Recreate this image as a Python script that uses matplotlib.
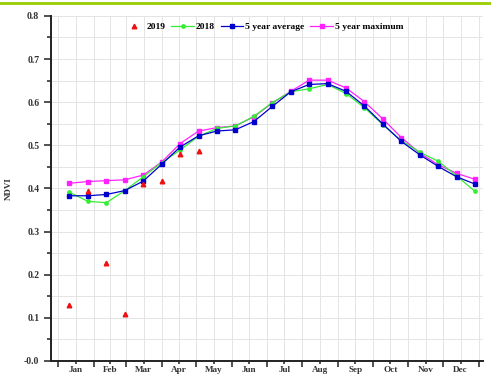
import matplotlib
matplotlib.use("Agg")
import matplotlib.pyplot as plt
from matplotlib.lines import Line2D
import numpy as np

# 16-day composites, plotted by day of year
days = [10 + 16 * k for k in range(23)]

ndvi_2019 = [0.130, 0.395, 0.226, 0.108, 0.410, 0.417, 0.479, 0.487]
ndvi_2018 = [0.391, 0.370, 0.367, 0.395, 0.427, 0.460, 0.489, 0.521, 0.539, 0.545,
             0.567, 0.599, 0.624, 0.631, 0.641, 0.620, 0.587, 0.548, 0.511, 0.484,
             0.463, 0.429, 0.393]
avg_5yr = [0.383, 0.383, 0.386, 0.395, 0.417, 0.456, 0.496, 0.522, 0.533, 0.536,
           0.555, 0.590, 0.624, 0.641, 0.643, 0.625, 0.591, 0.549, 0.509, 0.478,
           0.451, 0.427, 0.410]
max_5yr = [0.412, 0.416, 0.418, 0.420, 0.431, 0.461, 0.504, 0.533, 0.541, 0.545,
           0.566, 0.598, 0.625, 0.651, 0.651, 0.633, 0.601, 0.561, 0.518, 0.482,
           0.455, 0.435, 0.421]

months = ["Jan", "Feb", "Mar", "Apr", "May", "Jun", "Jul", "Aug", "Sep", "Oct", "Nov", "Dec"]
month_len = [31, 28, 31, 30, 31, 30, 31, 31, 30, 31, 30, 31]
y_ticks = [0.0, 0.1, 0.2, 0.3, 0.4, 0.5, 0.6, 0.7, 0.8]
y_labels = ["-0.0", "0.1", "0.2", "0.3", "0.4", "0.5", "0.6", "0.7", "0.8"]

month_edges = np.concatenate([[0], np.cumsum(month_len)])
month_mid = (month_edges[:-1] + month_edges[1:]) / 2

plt.rcParams['font.family'] = ['Liberation Serif', 'DejaVu Serif']
plt.rcParams['font.weight'] = 'bold'

fig = plt.figure(figsize=(4.91, 3.78), dpi=100)
ax = fig.add_axes([0.104, 0.045, 0.880, 0.913])

ax.plot(days, ndvi_2018, color='#33ee33', lw=0.9, marker='o', ms=2.4, label='2018', zorder=3)
ax.plot(days, avg_5yr, color='#0000cc', lw=0.9, marker='s', ms=3.2, label='5 year average', zorder=4)
ax.plot(days, max_5yr, color='#ff22ff', lw=0.9, marker='s', ms=2.7, label='5 year maximum', zorder=2)
ax.plot(days[:len(ndvi_2019)], ndvi_2019, ls='none', color='#ee1111', marker='^', ms=3.3,
        label='2019', zorder=5)

ax.set_xlim(-6, 369)
ax.set_ylim(0.0, 0.8)

ax.set_xticks(month_edges)
ax.set_xticklabels([])
ax.set_xticks(month_mid, minor=True)
ax.set_xticklabels(months, minor=True, fontsize=6.6, fontweight='bold', color='#333333')
ax.tick_params(axis='x', which='major', direction='out', length=4.5, width=1.2, color='#333333')
ax.tick_params(axis='x', which='minor', direction='out', length=2.5, width=1.2, color='#333333', pad=0.8)

ax.set_yticks(y_ticks)
ax.set_yticklabels(y_labels, fontsize=7, fontweight='bold', color='#333333')
ax.set_yticks(np.arange(0.05, 0.8, 0.1), minor=True)
ax.tick_params(axis='y', which='major', direction='out', length=5, width=1.2, color='#333333')
ax.tick_params(axis='y', which='minor', direction='out', length=3, width=1.2, color='#333333')

ax.grid(True, which='both', color='#e4e4e4', lw=0.7)
ax.set_axisbelow(True)

for s in ['top', 'right']:
    ax.spines[s].set_visible(False)
for s in ['left', 'bottom']:
    ax.spines[s].set_linewidth(1.4)
    ax.spines[s].set_color('#222222')

ax.set_ylabel('NDVI', fontsize=6.5, fontweight='bold', color='#333333', labelpad=8)

handles, labels = ax.get_legend_handles_labels()
order = [3, 0, 1, 2]
ax.legend([handles[i] for i in order], [labels[i] for i in order], loc='upper center',
          bbox_to_anchor=(0.49, 1.0), ncol=4, frameon=False, fontsize=6.8,
          handlelength=2.4, columnspacing=0.6, handletextpad=0.2, borderaxespad=0.3)

# green border line across the top of the image
fig.add_artist(Line2D([0, 1], [0.993, 0.993], transform=fig.transFigure, color='#99cc00', lw=2))

fig.savefig('out.png', dpi=100)
